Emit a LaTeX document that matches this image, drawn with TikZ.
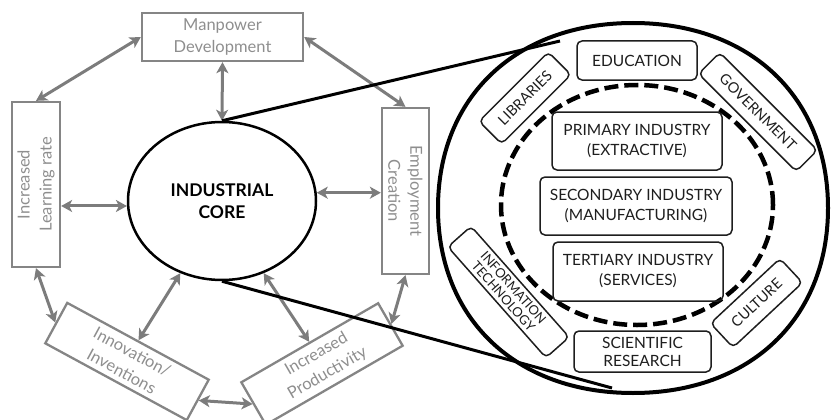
\documentclass[tikz,border=0pt]{standalone}
\usepackage{fontspec}
\setmainfont{Lato}
\usetikzlibrary{arrows.meta,shapes.geometric,calc}
\definecolor{boxgray}{HTML}{858585}
\definecolor{txtgray}{HTML}{8E8E8E}
\definecolor{arrgray}{HTML}{7C7C7C}
\definecolor{ink}{HTML}{1E1E1E}
\begin{document}
\begin{tikzpicture}[x=1pt,y=-1pt,
 gbox/.style={draw=boxgray, line width=2.3pt, text=txtgray, align=center, inner sep=0pt, font=\fontsize{16.5}{22}\selectfont},
 garrow/.style={draw=arrgray, line width=3pt, {Stealth[length=11pt,width=12pt,inset=3pt]}-{Stealth[length=11pt,width=12pt,inset=3pt]}},
 rbox/.style={draw=ink, line width=1.5pt, rounded corners=5pt, align=center, inner sep=0pt, text=ink, font=\fontsize{15.5}{20}\selectfont},
 zline/.style={draw=black, line width=3pt},
]
\useasboundingbox (0,0) rectangle (835,420);

% left diagram
\node[gbox, minimum width=161pt, minimum height=48pt] (mp) at (222.5,37) {Manpower\\Development};
\node[gbox, minimum width=165pt, minimum height=48pt, rotate=90] (lr) at (36,184.5) {Increased\\Learning rate};
\node[gbox, minimum width=166pt, minimum height=47pt, rotate=-90] (ec) at (405.5,191) {Employment\\Creation};
\node[gbox, minimum width=161pt, minimum height=46pt, rotate=-28.5] (inn) at (127,361.5) {Innovation/\\Inventions};
\node[gbox, minimum width=158pt, minimum height=49pt, rotate=30] (prod) at (322,364) {Increased\\Productivity};
\node[ellipse, draw=black, line width=2.5pt, minimum width=188pt, minimum height=158pt, inner sep=0pt,
      align=center, font=\bfseries\fontsize{17.5}{22}\selectfont] (core) at (222,201) {INDUSTRIAL\\CORE};

\draw[garrow] (lr.east) -- (mp.west);
\draw[garrow] (mp.south) -- (core.north);
\draw[garrow] (mp.east) -- (ec.west);
\draw[garrow] (lr.south |- core.183) -- (core.183);
\draw[garrow] (core.5) -- (core.5 -| ec.south);
\draw[garrow] (lr.west) -- (inn.west);
\draw[garrow] (core.240) -- (inn.north);
\draw[garrow] (core.-60) -- (prod.north);
\draw[garrow] (ec.east) -- (prod.east);
\draw[garrow] (inn.east) -- (prod.west);

% zoom lines
\coordinate (zt) at (560,41);
\coordinate (zb) at (612,388);
\draw[zline] (core.north) -- (zt);
\draw[zline] (core.south) -- (zb);

% big circle
\draw[line width=4pt] (438,208) .. controls (438,97) and (516,23) .. (633,23)
  .. controls (750,23) and (828,97) .. (828,208)
  .. controls (828,319) and (750,393) .. (633,393)
  .. controls (516,393) and (438,319) .. cycle;

% dashed circle
\draw[line width=4.5pt, dash pattern=on 14pt off 6pt] (637,205) ellipse [x radius=136pt, y radius=120pt];

% inner boxes
\node[rbox, minimum width=170pt, minimum height=58pt] (pri) at (637,141) {PRIMARY INDUSTRY\\(EXTRACTIVE)};
\node[rbox, minimum width=192pt, minimum height=58pt] (sec) at (636,206) {SECONDARY INDUSTRY\\(MANUFACTURING)};
\node[rbox, minimum width=170pt, minimum height=59pt] (ter) at (638,271.5) {TERTIARY INDUSTRY\\(SERVICES)};
\node[rbox, fill=white, minimum width=120pt, minimum height=39pt] (edu) at (637,60.5) {EDUCATION};
\node[rbox, fill=white, minimum width=137pt, minimum height=41pt, font=\fontsize{15.5}{18}\selectfont] (sci) at (642.5,351.5) {SCIENTIFIC\\RESEARCH};
\node[rbox, fill=white, minimum width=98pt, minimum height=32pt, rotate=45, font=\fontsize{14.5}{16}\selectfont] (lib) at (525,98) {LIBRARIES};
\node[rbox, fill=white, minimum width=138pt, minimum height=30pt, rotate=-45, font=\fontsize{14.5}{16}\selectfont] (gov) at (758,112) {GOVERNMENT};
\node[rbox, fill=white, minimum width=95pt, minimum height=33pt, rotate=43, font=\fontsize{14.5}{16}\selectfont] (cul) at (756.5,303) {CULTURE};
\node[rbox, fill=white, minimum width=148pt, minimum height=31pt, rotate=-48.5, font=\fontsize{13}{13.5}\selectfont] (it) at (508.5,292) {INFORMATION\\TECHNOLOGY};
\end{tikzpicture}
\end{document}
